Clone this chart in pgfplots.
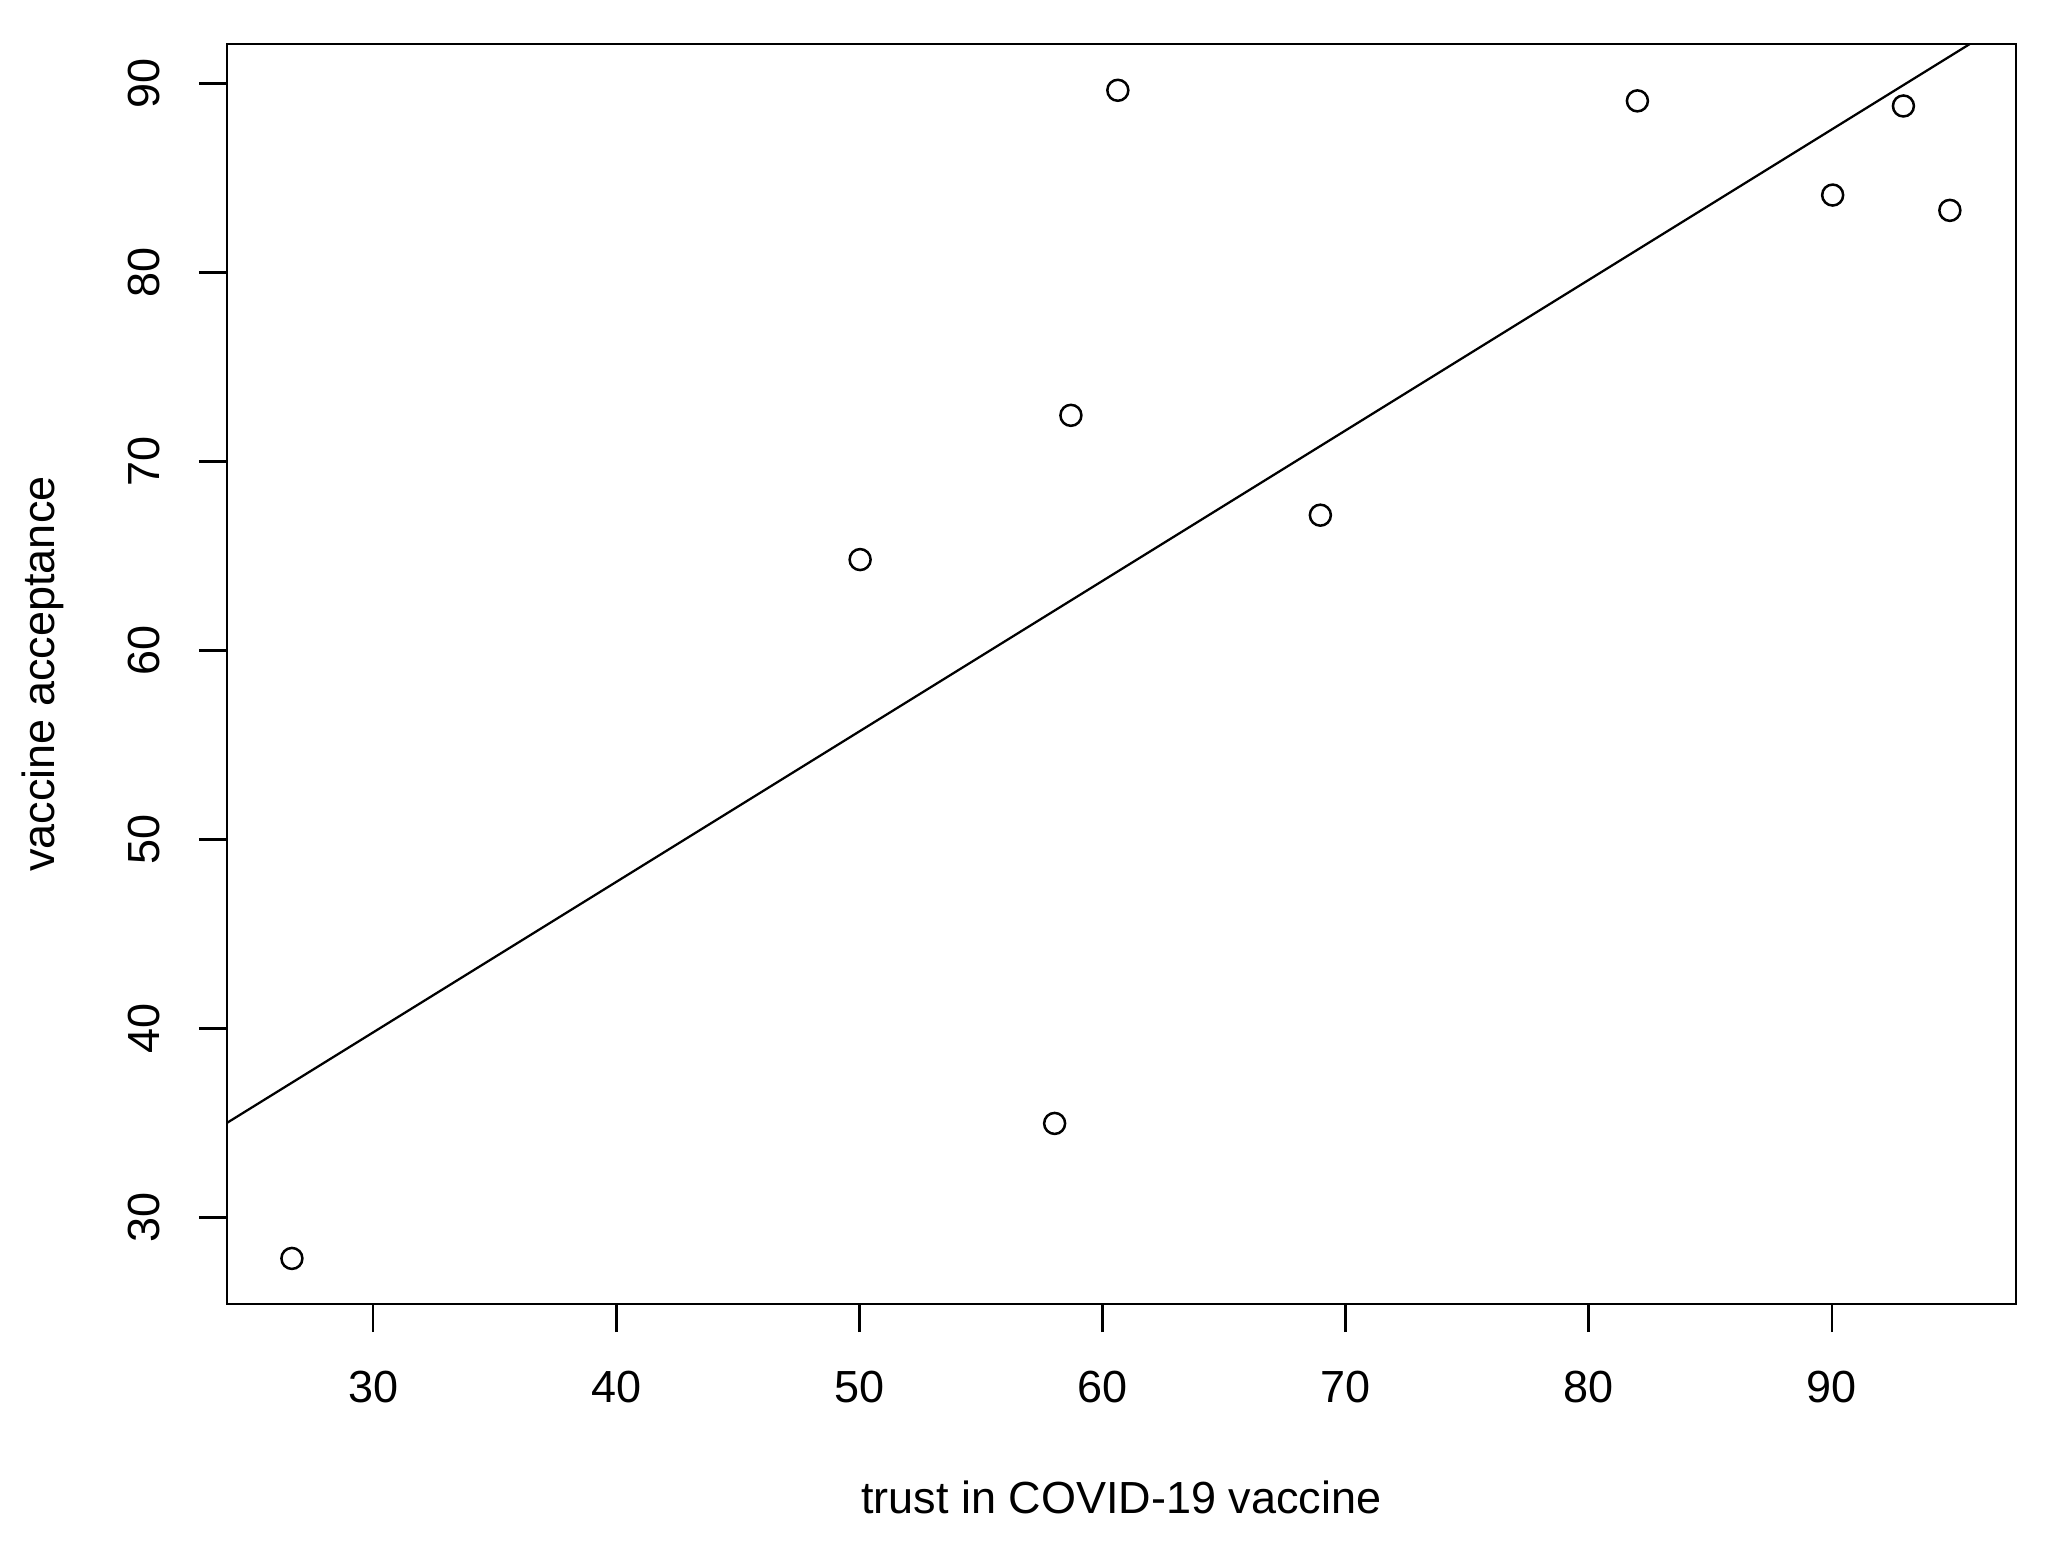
\documentclass[border=0pt]{standalone}
\usepackage{pgfplots}
\pgfplotsset{compat=1.18}
\usepackage{fontspec}
\setmainfont{Liberation Sans}
\begin{document}
\begin{tikzpicture}
\begin{axis}[
  at={(0,0)}, anchor=south west,
  scale only axis=true,
  width=357.8pt, height=252pt,
  xmin=23.99, xmax=97.57,
  ymin=25.44, ymax=92.08,
  xtick={30,40,50,60,70,80,90},
  ytick={30,40,50,60,70,80,90},
  xtick pos=bottom, ytick pos=left,
  tick align=outside,
  major tick length=5.6pt,
  axis line style={line width=0.55pt},
  every tick/.style={black, line width=0.55pt},
  /pgf/number format/assume math mode=true,
  tick label style={font=\fontsize{9pt}{11pt}\selectfont, black},
  xticklabel style={anchor=north},
  xticklabel shift=4.3pt,
  yticklabel style={rotate=90, anchor=south},
  yticklabel shift=4.3pt,
  label style={font=\fontsize{9pt}{11pt}\selectfont},
  xlabel={trust in COVID-19 vaccine},
  ylabel={vaccine acceptance},
  xlabel style={at={(axis description cs:0.5,-0.1532)}, anchor=center},
  ylabel style={at={(axis description cs:-0.1029,0.5)}, anchor=center, rotate=0},
  clip=true,
]
\addplot[black, line width=0.45pt] coordinates {(23.99,35.02) (97.57,93.59)};
\addplot[only marks, mark=o, mark size=2.1pt, mark options={line width=0.5pt, black}] coordinates {
(26.66,27.85)
(50.03,64.81)
(58.03,34.99)
(58.70,72.44)
(60.63,89.63)
(68.96,67.16)
(82.00,89.07)
(90.03,84.09)
(92.94,88.80)
(94.85,83.28)
};
\end{axis}
\pgfresetboundingbox
\useasboundingbox (-45.4pt,-47.4pt) rectangle (364.0pt,260.8pt);
\end{tikzpicture}
\end{document}
